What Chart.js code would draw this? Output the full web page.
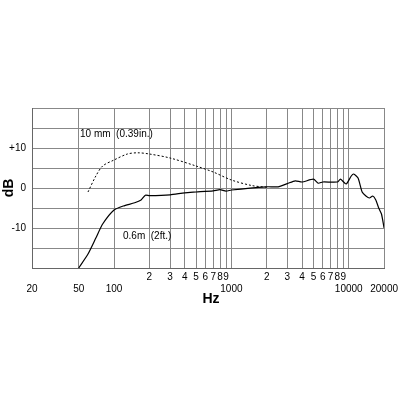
<!DOCTYPE html><html><head><script src="https://cdn.jsdelivr.net/npm/chart.js@4"></script>
<style>html,body{margin:0;background:#fff}#w{width:401px;height:401px}</style></head><body><div id="w"><canvas id="c"></canvas></div>
<script>
const freqNear=[60,70,80,100,130,160,200,300,500,700,1000,1500,2000];
const dbNear=[-1,3,5.5,7,8.5,8.8,8.5,7.5,5.5,4,2,0.6,0.2];
const freqFar=[50,60,70,80,100,120,150,170,185,200,300,400,500,700,800,900,1000,2000,2500,3000,3500,4000,5000,5500,6000,8000,8500,9500,10500,11000,12000,13000,14000,15000,16000,17000,18000,19000,20000];
const dbFar=[-20,-16.5,-12.5,-9,-5.5,-4.5,-3.7,-3,-1.8,-1.9,-1.7,-1.2,-1,-0.7,-0.4,-0.8,-0.5,0.3,0.3,1.1,1.8,1.5,2.2,1.2,1.5,1.5,2.2,1,3,3.5,2.5,-1,-2,-2.5,-2,-3,-5,-6.5,-10];
const xTicks=[20,50,100,200,300,400,500,600,700,800,900,1000,2000,3000,4000,5000,6000,7000,8000,9000,10000,20000];
const yTicks=[-20,-15,-10,-5,0,5,10,15,20];
const yLabels={"10":"+10","0":"0","-10":"-10"};
const pts=(f,d)=>f.map((x,i)=>({x,y:d[i]}));
const txt={id:'txt',afterDraw(ch){const c=ch.ctx;c.save();c.fillStyle='#000';
c.font='10px "Liberation Sans",Arial';c.textBaseline='middle';
c.fillText('10 mm  (0.39in.)',80,134);c.fillText('0.6m  (2ft.)',123,236);
c.font='bold 14px "Liberation Sans",Arial';c.textAlign='center';c.fillText('Hz',211,299);
c.translate(9,188);c.rotate(-Math.PI/2);c.fillText('dB',0,0);c.restore();}};
new Chart(document.getElementById('c'),{type:'line',
data:{datasets:[
{data:pts(freqNear,dbNear),borderColor:'#000',borderWidth:1,borderDash:[2,2],pointRadius:0,tension:0.3},
{data:pts(freqFar,dbFar),borderColor:'#000',borderWidth:1.2,pointRadius:0,tension:0.2}]},
options:{animation:false,responsive:true,maintainAspectRatio:false,
layout:{padding:{left:0,right:11,top:108,bottom:88}},
plugins:{legend:{display:false},tooltip:{enabled:false}},
scales:{
x:{type:'logarithmic',min:20,max:20000,afterFit:s=>{s.height=45},
afterBuildTicks:s=>{s.ticks=xTicks.map(v=>({value:v}))},
grid:{color:'#888',lineWidth:1,drawTicks:false},border:{color:'#666'},
ticks:{autoSkip:false,maxRotation:0,padding:3,color:'#000',font:{size:10,family:'"Liberation Sans",Arial'},
callback:v=>{if(v<200)return ['',String(v)];if(v<1000||(v>1000&&v<10000)){return [String(Math.round(v/Math.pow(10,Math.floor(Math.log10(v))+0))),''];}return ['',String(v)];}}},
y:{min:-20,max:20,afterFit:s=>{s.width=32},
afterBuildTicks:s=>{s.ticks=yTicks.map(v=>({value:v}))},
grid:{color:'#888',lineWidth:1,drawTicks:false},border:{color:'#666'},
ticks:{padding:6,color:'#000',font:{size:10,family:'"Liberation Sans",Arial'},callback:v=>yLabels[String(v)]||''}}}},
plugins:[txt]});
</script></body></html>
